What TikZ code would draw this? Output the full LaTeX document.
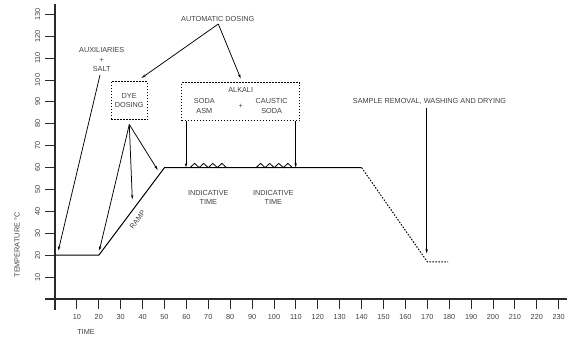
\documentclass[tikz,border=0pt]{standalone}
\usepackage{fontspec}
\setmainfont{Liberation Sans}
\usetikzlibrary{arrows.meta}
\definecolor{txt}{HTML}{404040}
\definecolor{ln}{HTML}{2A2A2A}
\begin{document}
\begin{tikzpicture}[x=1pt,y=-1pt,
 lbl/.style={text=txt, font=\fontsize{7.3}{9.2}\selectfont, inner sep=0pt, align=center},
 num/.style={text=txt, font=\fontsize{7.3}{8}\selectfont, inner sep=0pt},
 axisline/.style={draw=ln, line width=1.4pt},
 tickline/.style={draw=ln, line width=1pt},
 curve/.style={draw=black, line width=1pt},
 dotcurve/.style={draw=black, line width=1pt, dash pattern=on 1.5pt off 1.5pt},
 arr/.style={draw=black, line width=0.75pt, -{Stealth[length=4.5pt,width=2.4pt]}},
 dbox/.style={draw=black, line width=1pt, dash pattern=on 1.6pt off 1.4pt, inner sep=0pt, text=txt, font=\fontsize{7.3}{9.2}\selectfont, align=center},
]
\useasboundingbox (0,0) rectangle (574,338);
% axes
\draw[axisline] (55,4) -- (55,310);
\draw[axisline] (45,299) -- (567,299);
\foreach \v in {1,...,13}{
  \pgfmathtruncatemacro{\lab}{10*\v}
  \draw[tickline] (45,{299-21.9*\v}) -- (55,{299-21.9*\v});
  \node[num, rotate=90] (ylab\v) at (37.5,{299-21.9*\v}) {\lab};
}
\foreach \v in {1,...,23}{
  \pgfmathtruncatemacro{\lab}{10*\v}
  \draw[tickline] ({55+21.9*\v},299) -- ({55+21.9*\v},309);
  \node[num] (xlab\v) at ({55+21.9*\v},317) {\lab};
}
\node[lbl, rotate=90] (ytitle) at (17,245) {TEMPERATURE °C};
\node[lbl] (xtitle) at (86,332) {TIME};
% temperature curve
\coordinate (p0) at (55,255.2);
\coordinate (p1) at (98.8,255.2);
\coordinate (p2) at (164.5,167.6);
\coordinate (p3) at (361.6,167.6);
\coordinate (p4) at (427.3,261.8);
\coordinate (p5) at (448,261.8);
\draw[curve] (p0) -- (p1) -- (p2) -- (p3);
\draw[dotcurve] (p3) -- (p4) -- (p5);
% zigzags
\draw[curve, line width=0.8pt] (190,167.6) -- ++(4.56,-4.2) -- ++(4.56,4.2) -- ++(4.56,-4.2) -- ++(4.56,4.2) -- ++(4.56,-4.2) -- ++(4.56,4.2) -- ++(4.56,-4.2) -- ++(4.56,4.2);
\draw[curve, line width=0.8pt] (256,167.6) -- ++(4.56,-4.2) -- ++(4.56,4.2) -- ++(4.56,-4.2) -- ++(4.56,4.2) -- ++(4.56,-4.2) -- ++(4.56,4.2) -- ++(4.56,-4.2) -- ++(4.56,4.2);
\node[lbl, rotate=53] (ramp) at (137.5,219.5) {RAMP};
\node[lbl] (ind1) at (208.3,197.8) {INDICATIVE\\TIME};
\node[lbl] (ind2) at (273.3,197.8) {INDICATIVE\\TIME};
% auxiliaries
\node[lbl] (aux) at (101.7,59.5) {AUXILIARIES\\+\\SALT};
\coordinate (auxs) at (100,75);
\coordinate (auxe) at (58.3,250.7);
\draw[arr] (auxs) -- (auxe);
% dye dosing
\node[dbox, minimum width=36.3pt, minimum height=38.3pt] (dye) at (129.2,100.8) {DYE\\DOSING};
\coordinate (dd) at (129.3,124.5);
\coordinate (dd1) at (99.3,250.7);
\coordinate (dd2) at (132.3,199.3);
\coordinate (dd3) at (157.7,170);
\draw[arr] (dd) -- (dd1);
\draw[arr] (dd) -- (dd2);
\draw[arr] (dd) -- (dd3);
% automatic dosing
\node[lbl] (auto) at (217.7,19) {AUTOMATIC DOSING};
\coordinate (autop) at (218.3,24);
\coordinate (autol) at (141.5,78);
\coordinate (autor) at (240.7,78.5);
\draw[arr] (autop) -- (autol);
\draw[arr] (autop) -- (autor);
% alkali
\node[dbox, minimum width=118.3pt, minimum height=38.3pt] (alk) at (240.8,101.8) {};
\node[lbl] (alkt) at (240.7,90) {ALKALI};
\node[lbl] (soda) at (204.3,105.9) {SODA\\ASM};
\node[lbl] (plus) at (240.7,106.7) {+};
\node[lbl] (caus) at (271.7,105.9) {CAUSTIC\\SODA};
\coordinate (al1) at (186,121);
\coordinate (al1e) at (186,167.6);
\coordinate (al2) at (295.7,121);
\coordinate (al2e) at (295.7,167.6);
\draw[arr] (al1) -- (al1e);
\draw[arr] (al2) -- (al2e);
% sample removal
\node[lbl] (samp) at (429.5,101.7) {SAMPLE REMOVAL, WASHING AND DRYING};
\coordinate (sa) at (426.7,108);
\coordinate (sb) at (426.7,253.5);
\draw[arr] (sa) -- (sb);
\end{tikzpicture}
\end{document}
